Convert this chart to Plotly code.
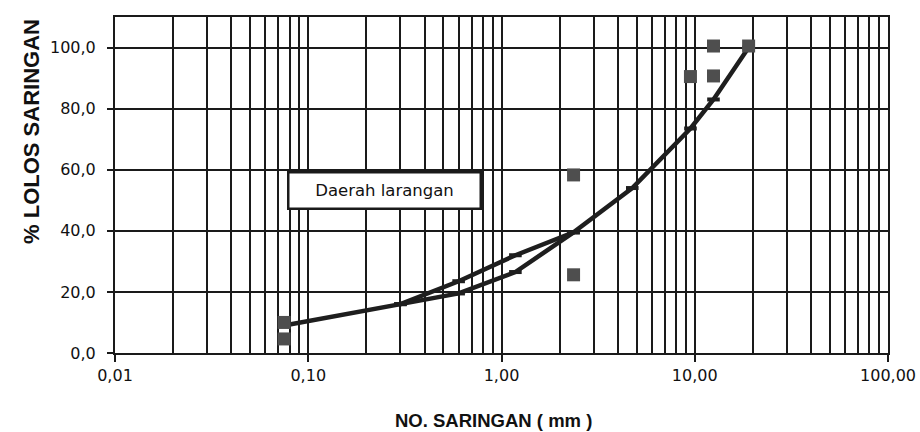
import plotly.graph_objects as go

# Sieve sizes (mm) and percent passing
sieve_main = [0.075, 0.3, 0.6, 1.18, 2.36, 4.75, 9.5, 12.5, 19]
pass_main = [9.0, 16.0, 23.5, 32.0, 39.5, 54.0, 73.5, 83.0, 100.0]

sieve_lower = [0.3, 0.6, 1.18, 2.36]
pass_lower = [16.0, 19.5, 26.5, 39.5]

ctrl_sieve = [0.075, 0.075, 2.36, 2.36, 9.5, 12.5, 12.5, 19]
ctrl_pass = [10.0, 4.6, 58.3, 25.6, 90.5, 90.7, 100.5, 100.5]

x_tick_vals = [0.01, 0.1, 1, 10, 100]
x_tick_labels = ["0,01", "0,10", "1,00", "10,00", "100,00"]
y_tick_vals = [0, 20, 40, 60, 80, 100]

line_col = "#1e1e1e"
grid_col = "#1a1a1a"

fig = go.Figure()

fig.add_trace(go.Scatter(
    x=sieve_main, y=pass_main, mode="lines+markers",
    line=dict(color=line_col, width=4.5),
    marker=dict(symbol="line-ew", size=9, line=dict(color=line_col, width=4)),
    showlegend=False, cliponaxis=False))

fig.add_trace(go.Scatter(
    x=sieve_lower, y=pass_lower, mode="lines+markers",
    line=dict(color=line_col, width=4.5),
    marker=dict(symbol="line-ew", size=9, line=dict(color=line_col, width=4)),
    showlegend=False, cliponaxis=False))

fig.add_trace(go.Scatter(
    x=ctrl_sieve, y=ctrl_pass, mode="markers",
    marker=dict(symbol="square", size=13, color="#4e4e4e"),
    showlegend=False, cliponaxis=False))

fig.update_layout(
    width=920, height=432,
    margin=dict(l=115, r=32, t=17, b=79, autoexpand=False),
    paper_bgcolor="white", plot_bgcolor="white",
    separators=",.",
    font=dict(family="DejaVu Sans", color="#111111", size=16),
)

fig.update_xaxes(
    type="log", range=[-2, 2], automargin=False,
    tickmode="array", tickvals=x_tick_vals, ticktext=x_tick_labels,
    showgrid=True, gridcolor=grid_col, gridwidth=1.5,
    minor=dict(dtick="D1", showgrid=True, gridcolor=grid_col, gridwidth=1.5, ticks=""),
    showline=True, linecolor=grid_col, linewidth=2, mirror=True,
    ticks="outside", ticklen=7, tickwidth=1.5, tickcolor=grid_col,
    tickfont=dict(family="DejaVu Sans", size=16, color="#111111"),
    zeroline=False,
)

fig.update_yaxes(
    range=[0, 110], automargin=False,
    tickmode="array", tickvals=y_tick_vals, tickformat=".1f",
    showgrid=True, gridcolor=grid_col, gridwidth=1.5,
    showline=True, linecolor=grid_col, linewidth=2, mirror=True,
    ticks="outside", ticklen=6, tickwidth=1.5, tickcolor=grid_col,
    tickfont=dict(family="DejaVu Sans", size=16, color="#111111"),
    ticklabelstandoff=8,
    zeroline=False,
)

fig.add_annotation(
    xref="paper", yref="paper", x=-0.109, y=0.66,
    text="<b>% LOLOS SARINGAN</b>", textangle=-90, showarrow=False,
    font=dict(family="Liberation Sans", size=22, color="#111111"),
    xanchor="center", yanchor="middle")

fig.add_annotation(
    xref="paper", yref="paper", x=0.49, y=-0.2,
    text="<b>NO. SARINGAN ( mm )</b>", showarrow=False,
    font=dict(family="Liberation Sans", size=18.5, color="#111111"),
    xanchor="center", yanchor="middle")

fig.add_annotation(
    xref="paper", yref="paper", x=0.3486, y=0.484,
    text="Daerah larangan", showarrow=False,
    font=dict(family="DejaVu Sans", size=16.5, color="#111111"),
    bgcolor="white", bordercolor=grid_col, borderwidth=2.5,
    width=188, height=32,
    xanchor="center", yanchor="middle")

fig.write_html(
    "out.html",
    config={"displayModeBar": False},
    post_script="document.body.style.margin='0';document.body.style.padding='0';document.body.style.overflow='hidden';",
)
